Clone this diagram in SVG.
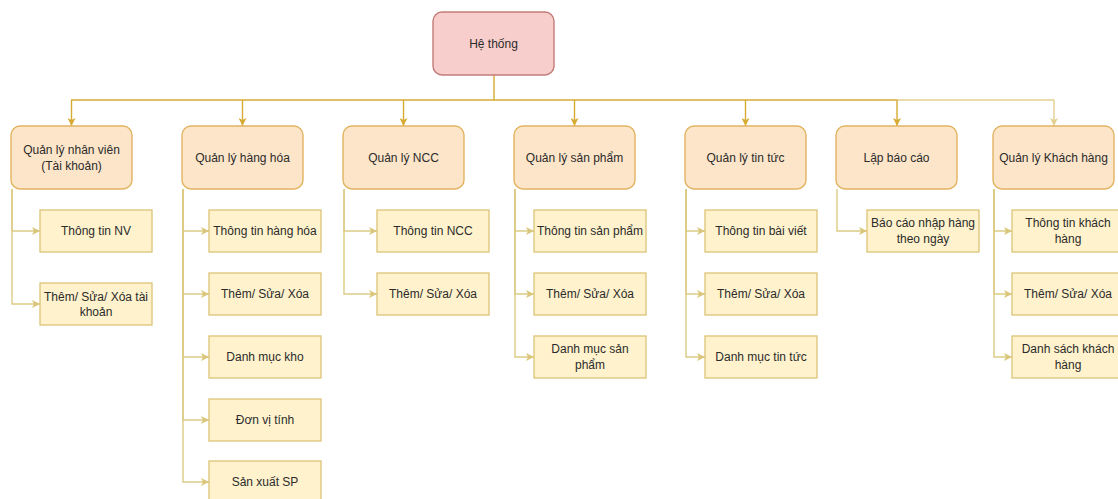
<svg xmlns="http://www.w3.org/2000/svg" width="1118" height="499" viewBox="0 0 1118 499">
  <style>
    text { font-family: "Liberation Sans", Arial, sans-serif; font-size: 12px; fill: #2b2b2b; text-anchor: middle; dominant-baseline: central; }
    .root { fill: #f8cecc; stroke: #c27c78; stroke-width: 1.4; }
    .module { fill: #fde5c9; stroke: #e2b461; stroke-width: 1.4; }
    .leaf { fill: #fff2cc; stroke: #dcc478; stroke-width: 1.3; }
    .main { fill: none; stroke: #d6aa33; stroke-width: 1.4; }
    .soft { fill: none; stroke: #e3cf8e; stroke-width: 1.4; }
    .sub { fill: none; stroke: #dccb85; stroke-width: 1.4; }
  </style>
  <defs>
    <marker id="arrowMain" viewBox="0 0 10 10" refX="10" refY="5" markerWidth="8" markerHeight="8" markerUnits="userSpaceOnUse" orient="auto">
      <path d="M0,0 L10,5 L0,10 L2.5,5 z" fill="#d6aa33"/>
    </marker>
    <marker id="arrowSoft" viewBox="0 0 10 10" refX="10" refY="5" markerWidth="8" markerHeight="8" markerUnits="userSpaceOnUse" orient="auto">
      <path d="M0,0 L10,5 L0,10 L2.5,5 z" fill="#e3cf8e"/>
    </marker>
    <marker id="arrowSub" viewBox="0 0 10 10" refX="10" refY="5" markerWidth="8" markerHeight="8" markerUnits="userSpaceOnUse" orient="auto">
      <path d="M0,0 L10,5 L0,10 L2.5,5 z" fill="#d9c67a"/>
    </marker>
  </defs>

  <rect width="1118" height="499" fill="#ffffff"/>

  <!-- connectors -->
  <g id="connectors">
    <!-- root to modules -->
    <path class="main" d="M494 75 V100"/>
    <path class="main" d="M71 100 H897"/>
    <path class="soft" d="M897 100 H1054"/>
    <path class="main" d="M71.5 100 V126" marker-end="url(#arrowMain)"/>
    <path class="main" d="M242.5 100 V126" marker-end="url(#arrowMain)"/>
    <path class="main" d="M403.5 100 V126" marker-end="url(#arrowMain)"/>
    <path class="main" d="M574.5 100 V126" marker-end="url(#arrowMain)"/>
    <path class="main" d="M745.5 100 V126" marker-end="url(#arrowMain)"/>
    <path class="main" d="M897 100 V126" marker-end="url(#arrowMain)"/>
    <path class="soft" d="M1054 100 V126" marker-end="url(#arrowSoft)"/>

    <!-- modules to functions -->
    <path class="sub" d="M12 189 V231 H40" marker-end="url(#arrowSub)"/>
    <path class="sub" d="M12 189 V304 H40" marker-end="url(#arrowSub)"/>

    <path class="sub" d="M183 189 V231 H209" marker-end="url(#arrowSub)"/>
    <path class="sub" d="M183 189 V294 H209" marker-end="url(#arrowSub)"/>
    <path class="sub" d="M183 189 V357 H209" marker-end="url(#arrowSub)"/>
    <path class="sub" d="M183 189 V420 H209" marker-end="url(#arrowSub)"/>
    <path class="sub" d="M183 189 V482 H209" marker-end="url(#arrowSub)"/>

    <path class="sub" d="M344 189 V231 H377" marker-end="url(#arrowSub)"/>
    <path class="sub" d="M344 189 V294 H377" marker-end="url(#arrowSub)"/>

    <path class="sub" d="M515 189 V231 H534" marker-end="url(#arrowSub)"/>
    <path class="sub" d="M515 189 V294 H534" marker-end="url(#arrowSub)"/>
    <path class="sub" d="M515 189 V357 H534" marker-end="url(#arrowSub)"/>

    <path class="sub" d="M686 189 V231 H705" marker-end="url(#arrowSub)"/>
    <path class="sub" d="M686 189 V294 H705" marker-end="url(#arrowSub)"/>
    <path class="sub" d="M686 189 V357 H705" marker-end="url(#arrowSub)"/>

    <path class="sub" d="M837 189 V231 H867" marker-end="url(#arrowSub)"/>

    <path class="sub" d="M994 189 V231 H1012" marker-end="url(#arrowSub)"/>
    <path class="sub" d="M994 189 V294 H1012" marker-end="url(#arrowSub)"/>
    <path class="sub" d="M994 189 V357 H1012" marker-end="url(#arrowSub)"/>
  </g>

  <!-- root -->
  <g id="he-thong">
    <rect class="root" x="433" y="12" width="121" height="63" rx="9"/>
    <text x="493.5" y="43.5">Hệ thống</text>
  </g>

  <!-- modules -->
  <g id="ql-nhan-vien">
    <rect class="module" x="11" y="126" width="121" height="63" rx="9"/>
    <text x="71.5" y="150">Quản lý nhân viên</text>
    <text x="71.5" y="166">(Tài khoản)</text>
  </g>
  <g id="ql-hang-hoa">
    <rect class="module" x="182" y="126" width="121" height="63" rx="9"/>
    <text x="242.5" y="157.5">Quản lý hàng hóa</text>
  </g>
  <g id="ql-ncc">
    <rect class="module" x="343" y="126" width="121" height="63" rx="9"/>
    <text x="403.5" y="157.5">Quản lý NCC</text>
  </g>
  <g id="ql-san-pham">
    <rect class="module" x="514" y="126" width="121" height="63" rx="9"/>
    <text x="574.5" y="157.5">Quản lý sản phẩm</text>
  </g>
  <g id="ql-tin-tuc">
    <rect class="module" x="685" y="126" width="121" height="63" rx="9"/>
    <text x="745.5" y="157.5">Quản lý tin tức</text>
  </g>
  <g id="lap-bao-cao">
    <rect class="module" x="836" y="126" width="121" height="63" rx="9"/>
    <text x="896.5" y="157.5">Lập báo cáo</text>
  </g>
  <g id="ql-khach-hang">
    <rect class="module" x="993" y="126" width="121" height="63" rx="9"/>
    <text x="1053.5" y="157.5">Quản lý Khách hàng</text>
  </g>

  <!-- functions: nhân viên -->
  <g id="nv-thong-tin">
    <rect class="leaf" x="40" y="210" width="112" height="42"/>
    <text x="96" y="231">Thông tin NV</text>
  </g>
  <g id="nv-them-sua-xoa">
    <rect class="leaf" x="40" y="283" width="112" height="42"/>
    <text x="96" y="297">Thêm/ Sửa/ Xóa tài</text>
    <text x="96" y="312">khoản</text>
  </g>

  <!-- functions: hàng hóa -->
  <g id="hh-thong-tin">
    <rect class="leaf" x="209" y="210" width="112" height="42"/>
    <text x="265" y="231">Thông tin hàng hóa</text>
  </g>
  <g id="hh-them-sua-xoa">
    <rect class="leaf" x="209" y="273" width="112" height="42"/>
    <text x="265" y="294">Thêm/ Sửa/ Xóa</text>
  </g>
  <g id="hh-danh-muc-kho">
    <rect class="leaf" x="209" y="336" width="112" height="42"/>
    <text x="265" y="357">Danh mục kho</text>
  </g>
  <g id="hh-don-vi-tinh">
    <rect class="leaf" x="209" y="399" width="112" height="42"/>
    <text x="265" y="420">Đơn vị tính</text>
  </g>
  <g id="hh-san-xuat">
    <rect class="leaf" x="209" y="461" width="112" height="42"/>
    <text x="265" y="482">Sản xuất SP</text>
  </g>

  <!-- functions: NCC -->
  <g id="ncc-thong-tin">
    <rect class="leaf" x="377" y="210" width="112" height="42"/>
    <text x="433" y="231">Thông tin NCC</text>
  </g>
  <g id="ncc-them-sua-xoa">
    <rect class="leaf" x="377" y="273" width="112" height="42"/>
    <text x="433" y="294">Thêm/ Sửa/ Xóa</text>
  </g>

  <!-- functions: sản phẩm -->
  <g id="sp-thong-tin">
    <rect class="leaf" x="534" y="210" width="112" height="42"/>
    <text x="590" y="231">Thông tin sản phẩm</text>
  </g>
  <g id="sp-them-sua-xoa">
    <rect class="leaf" x="534" y="273" width="112" height="42"/>
    <text x="590" y="294">Thêm/ Sửa/ Xóa</text>
  </g>
  <g id="sp-danh-muc">
    <rect class="leaf" x="534" y="336" width="112" height="42"/>
    <text x="590" y="349">Danh mục sản</text>
    <text x="590" y="365">phẩm</text>
  </g>

  <!-- functions: tin tức -->
  <g id="tt-bai-viet">
    <rect class="leaf" x="705" y="210" width="112" height="42"/>
    <text x="761" y="231">Thông tin bài viết</text>
  </g>
  <g id="tt-them-sua-xoa">
    <rect class="leaf" x="705" y="273" width="112" height="42"/>
    <text x="761" y="294">Thêm/ Sửa/ Xóa</text>
  </g>
  <g id="tt-danh-muc">
    <rect class="leaf" x="705" y="336" width="112" height="42"/>
    <text x="761" y="357">Danh mục tin tức</text>
  </g>

  <!-- functions: báo cáo -->
  <g id="bc-nhap-hang">
    <rect class="leaf" x="867" y="210" width="112" height="42"/>
    <text x="923" y="223">Báo cáo nhập hàng</text>
    <text x="923" y="239">theo ngày</text>
  </g>

  <!-- functions: khách hàng -->
  <g id="kh-thong-tin">
    <rect class="leaf" x="1012" y="210" width="112" height="42"/>
    <text x="1068" y="223">Thông tin khách</text>
    <text x="1068" y="239">hàng</text>
  </g>
  <g id="kh-them-sua-xoa">
    <rect class="leaf" x="1012" y="273" width="112" height="42"/>
    <text x="1068" y="294">Thêm/ Sửa/ Xóa</text>
  </g>
  <g id="kh-danh-sach">
    <rect class="leaf" x="1012" y="336" width="112" height="42"/>
    <text x="1068" y="349">Danh sách khách</text>
    <text x="1068" y="365">hàng</text>
  </g>
</svg>
